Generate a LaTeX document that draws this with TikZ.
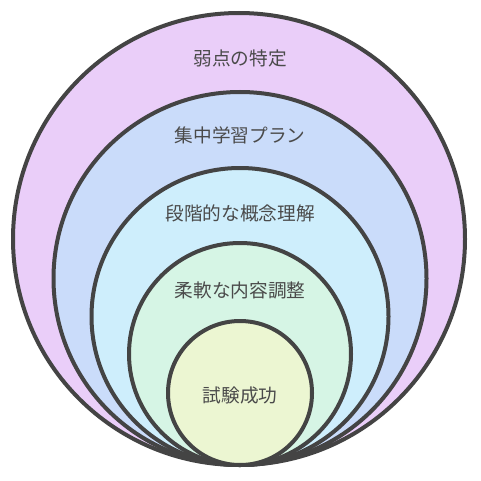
\documentclass[tikz,border=0pt]{standalone}
\usepackage{fontspec}
\newfontfamily\cjk{Noto Sans CJK JP}
\definecolor{ringline}{HTML}{444444}
\definecolor{txt}{HTML}{4A4A4A}
\definecolor{cA}{RGB}{234,206,249}
\definecolor{cB}{RGB}{202,220,250}
\definecolor{cC}{RGB}{206,238,252}
\definecolor{cD}{RGB}{214,245,229}
\definecolor{cE}{RGB}{236,246,210}
\tikzset{
  ring/.style={circle, draw=ringline, line width=3pt, inner sep=0pt, minimum size=#1},
  lbl/.style={text=txt, font=\cjk\fontsize{14pt}{16pt}\selectfont, inner sep=0pt}
}
\begin{document}
\begin{tikzpicture}[x=0.75pt,y=-0.75pt]
\useasboundingbox (0,0) rectangle (480,481);
\node[ring=452*0.75pt, fill=cA] (r1) at (239,239) {};
\node[ring=373*0.75pt, fill=cB] (r2) at (240,278.5) {};
\node[ring=297*0.75pt, fill=cC] (r3) at (240,316.5) {};
\node[ring=222*0.75pt, fill=cD] (r4) at (240,354) {};
\node[ring=144*0.75pt, fill=cE] (r5) at (240,393) {};
\node[lbl] (t1) at (240,58) {弱点の特定};
\node[lbl] (t2) at (240,135) {集中学習プラン};
\node[lbl] (t3) at (240,213) {段階的な概念理解};
\node[lbl] (t4) at (240,290) {柔軟な内容調整};
\node[lbl] (t5) at (240,395) {試験成功};
\end{tikzpicture}
\end{document}
